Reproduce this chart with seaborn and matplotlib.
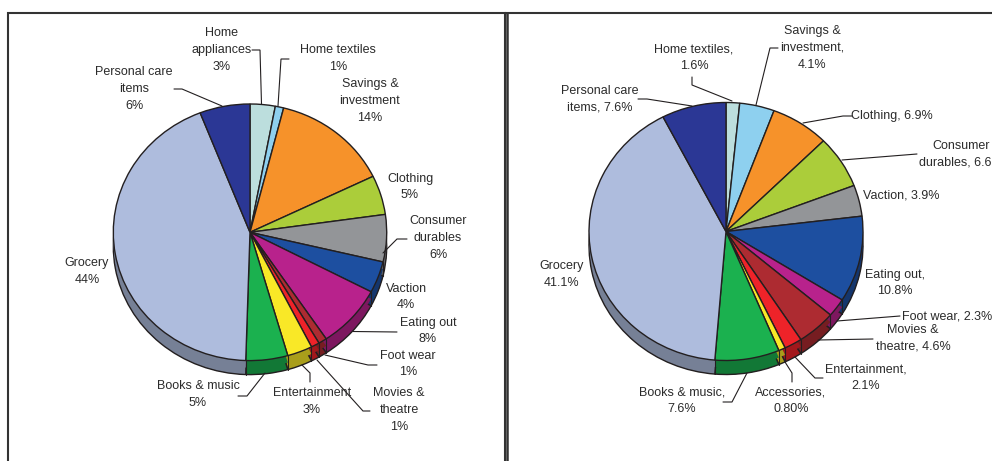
import numpy as np
import matplotlib
matplotlib.use('Agg')
import matplotlib.pyplot as plt
import seaborn as sns

sns.set_theme(style='white')
plt.rcParams['font.family'] = ['Liberation Sans', 'DejaVu Sans']

# 数据
left_names = ['Home\nappliances\n3%', 'Home textiles\n1%', 'Savings &\ninvestment\n14%', 'Clothing\n5%',
              'Consumer\ndurables\n6%', 'Vaction\n4%', 'Eating out\n8%', 'Foot wear\n1%',
              'Movies &\ntheatre\n1%', 'Entertainment\n3%', 'Books & music\n5%', 'Grocery\n44%',
              'Personal care\nitems\n6%']
left_values = [3, 1, 14, 5, 6, 4, 8, 1, 1, 3, 5, 44, 6]

right_names = ['Home textiles,\n1.6%', 'Savings &\ninvestment,\n4.1%', 'Clothing, 6.9%',
               'Consumer\ndurables, 6.6%', 'Vaction, 3.9%', 'Eating out,\n10.8%', 'Foot wear, 2.3%',
               'Movies &\ntheatre, 4.6%', 'Entertainment,\n2.1%', 'Accessories,\n0.80%',
               'Books & music,\n7.6%', 'Grocery\n41.1%', 'Personal care\nitems, 7.6%']
right_values = [1.6, 4.1, 6.9, 6.6, 3.9, 10.8, 2.3, 4.6, 2.1, 0.8, 7.6, 41.1, 7.6]

left_colors = ['#bcdedd', '#8ed0ef', '#f6922a', '#abcd3a', '#939598', '#1d4fa0', '#b8228c',
               '#ad2b31', '#ee2329', '#f9e827', '#1bb14f', '#aebcdd', '#2b3795']
right_colors = ['#bcdedd', '#8ed0ef', '#f6922a', '#abcd3a', '#939598', '#1d4fa0', '#b8228c',
                '#ad2b31', '#ee2329', '#f9e827', '#1bb14f', '#aebcdd', '#2b3795']

# 标签位置 (像素)
left_label_pos = [(222, 50), (338, 58.5), (370, 101), (410, 187), (438, 238), (406, 297), (428, 331),
                  (408, 364), (399, 410), (312, 401.5), (198, 394.5), (87, 271.5), (134, 89)]
right_label_pos = [(694, 57.5), (812, 48), (892, 116), (961, 154), (901, 195), (895, 283), (947, 316),
                   (913, 338.5), (866, 378), (791, 401), (682, 401), (562, 274.5), (600, 99)]

left_leaders = [[(252, 50), (260, 50), (261.5, 104)],
                [(289, 59), (281, 59), (278, 106)],
                [(174, 89), (182, 89), (222, 106)],
                [(407, 239), (397, 239), (383, 253)],
                [(397, 332), (353, 331.5)],
                [(377, 365), (368, 365), (325, 355)],
                [(370, 411), (363, 411), (317, 360)],
                [(310, 382), (310, 373), (302, 365)],
                [(238, 396), (247, 396), (265, 373)]]
right_leaders = [[(692, 77), (692, 85), (732, 101)],
                 [(778, 48), (770, 48), (756, 105)],
                 [(638, 99), (647, 99), (692, 106)],
                 [(852, 116), (843, 116), (803, 123)],
                 [(917, 154), (842, 160)],
                 [(900, 316), (837, 321)],
                 [(873, 339), (818, 340)],
                 [(823, 378), (815, 378), (795, 357)],
                 [(792, 382), (792, 373), (785, 362)],
                 [(723, 402), (732, 402), (747, 373)]]

W, H = 992, 461
EDGE = '#231f20'


def draw_pie(fig, values, colors, cx, cy, rx, ry, depth):
    """画带厚度的椭圆饼图"""
    d = depth / ry
    pad = 0.03
    ax = fig.add_axes([(cx - rx * (1 + pad)) / W, 1 - (cy + ry * (1 + pad) + depth) / H,
                       2 * rx * (1 + pad) / W, (2 * ry * (1 + pad) + depth) / H])
    side = [np.array(matplotlib.colors.to_rgb(c)) * 0.68 for c in colors]

    # 侧面
    for off in np.arange(d, 0, -0.01):
        ax.pie(values, colors=side, startangle=90, counterclock=False, center=(0, -off),
               wedgeprops=dict(linewidth=0))
    ax.pie(values, colors=side, startangle=90, counterclock=False, center=(0, -d),
           wedgeprops=dict(edgecolor=EDGE, linewidth=1.0))
    ax.pie(values, colors=side, startangle=90, counterclock=False, center=(0, -d / 2),
           wedgeprops=dict(linewidth=0))

    # 顶面
    wedges, _ = ax.pie(values, colors=colors, startangle=90, counterclock=False, center=(0, 0),
                       wedgeprops=dict(edgecolor=EDGE, linewidth=1.0))

    # 侧面分割线
    for w in wedges:
        t = np.deg2rad(w.theta1)
        if np.sin(t) < 0:
            ax.plot([np.cos(t)] * 2, [np.sin(t), np.sin(t) - d], color=EDGE, lw=0.8, zorder=5)

    ax.set_aspect('auto')
    ax.set_xlim(-1 - pad, 1 + pad)
    ax.set_ylim(-1 - pad - d, 1 + pad)
    ax.axis('off')
    return ax


def draw_labels(ax, names, positions, leaders):
    for name, (x, y) in zip(names, positions):
        ax.text(x, y, name, ha='center', va='center', fontsize=9, color='#2b2b2b', linespacing=1.52)
    for pts in leaders:
        xs, ys = zip(*pts)
        ax.plot(xs, ys, color=EDGE, lw=0.8, solid_joinstyle='miter')


def main():
    fig = plt.figure(figsize=(W / 100, H / 100), dpi=100, facecolor='white')

    draw_pie(fig, left_values, left_colors, 250, 232.3, 136.7, 128.3, 14)
    draw_pie(fig, right_values, right_colors, 726, 231.5, 137, 129, 14)

    # 覆盖层: 边框, 标签
    over = fig.add_axes([0, 0, 1, 1], facecolor='none')
    over.set_xlim(0, W)
    over.set_ylim(H, 0)
    over.axis('off')

    over.plot([7.5, 7.5, 505, 505], [H, 13.5, 13.5, H], color='#333333', lw=1.5, solid_joinstyle='miter')
    over.plot([507, 507], [H, 13.5], color='#333333', lw=1.8)
    over.plot([505, W], [13.5, 13.5], color='#333333', lw=1.5)

    draw_labels(over, left_names, left_label_pos, left_leaders)
    draw_labels(over, right_names, right_label_pos, right_leaders)

    fig.savefig('out.png', dpi=100)
    plt.close(fig)


if __name__ == "__main__":
    main()
